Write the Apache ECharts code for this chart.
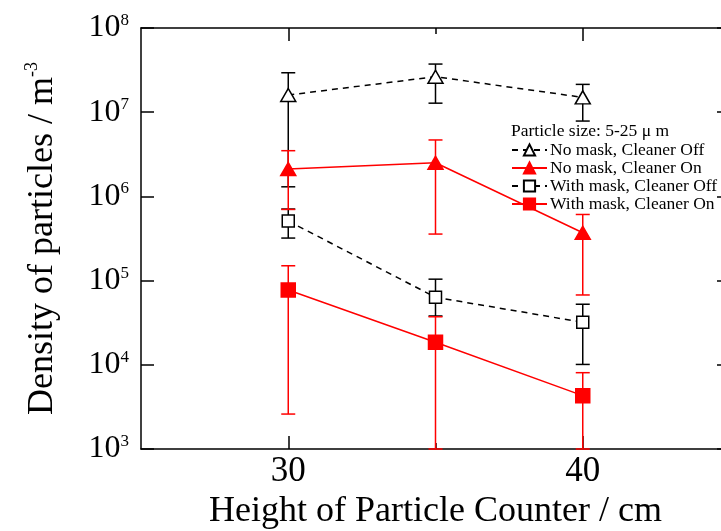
<!DOCTYPE html>
<html>
<head>
<meta charset="utf-8">
<script src="https://cdn.jsdelivr.net/npm/echarts@6/dist/echarts.min.js"></script>
<style>html,body{margin:0;padding:0;background:#fff;}#c{width:721px;height:531px;}</style>
</head>
<body>
<div id="c"></div>
<script>
// ---- data ----
var heights = [30, 35, 40];
var xTickLabels = [30, 40];
var xMinorTicks = [35];
var seriesNames = ['No mask, Cleaner Off', 'No mask, Cleaner On', 'With mask, Cleaner Off', 'With mask, Cleaner On'];
var noMaskOff    = [1.6e7, 2.64e7, 1.5e7];
var noMaskOffHi  = [2.94e7, 3.73e7, 2.14e7];
var noMaskOffLo  = [1.3e6, 1.28e7, 7.85e6];
var noMaskOn     = [2.11e6, 2.51e6, 3.7e5];
var noMaskOnHi   = [3.49e6, 4.68e6, 6.1e5];
var noMaskOnLo   = [7.0e5, 3.57e5, 6.75e4];
var maskOff      = [5.1e5, 6.34e4, 3.2e4];
var maskOffHi    = [7.08e5, 1.04e5, 5.24e4];
var maskOffLo    = [3.2e5, 3.8e4, 1.01e4];
var maskOn       = [7.73e4, 1.85e4, 4.3e3];
var maskOnHi     = [1.5e5, 3.72e4, 8.06e3];
var maskOnLo     = [2.6e3, 1.0e3, 1.0e3];

var FONT = '"Liberation Serif", "Times New Roman", serif';
var RED = '#ff0000', BLACK = '#000000';

function pts(vals) { return heights.map(function (h, i) { return [h, vals[i]]; }); }
function errData(lo, hi) { return heights.map(function (h, i) { return [h, lo[i], hi[i]]; }); }

function errSeries(name, lo, hi, color) {
  return {
    type: 'custom', name: name, xAxisIndex: 0, yAxisIndex: 0, z: 1,
    data: errData(lo, hi),
    renderItem: function (params, api) {
      var x = api.value(0);
      var p1 = api.coord([x, api.value(1)]);
      var p2 = api.coord([x, api.value(2)]);
      var w = 7;
      var st = { stroke: color, lineWidth: 1.5 };
      return {
        type: 'group',
        children: [
          { type: 'line', shape: { x1: p1[0], y1: p1[1], x2: p2[0], y2: p2[1] }, style: st },
          { type: 'line', shape: { x1: p1[0] - w, y1: p1[1], x2: p1[0] + w, y2: p1[1] }, style: st },
          { type: 'line', shape: { x1: p2[0] - w, y1: p2[1], x2: p2[0] + w, y2: p2[1] }, style: st }
        ]
      };
    }
  };
}

function lineSeries(name, vals, color, dashed, symbol, size, filled) {
  return {
    type: 'line', name: name, xAxisIndex: 0, yAxisIndex: 0, z: 3,
    data: pts(vals), symbol: symbol, symbolSize: size, showAllSymbol: true,
    lineStyle: { color: color, width: 1.5, type: dashed ? [6, 5] : 'solid' },
    itemStyle: { color: filled ? color : '#ffffff', borderColor: color, borderWidth: 1.5, opacity: 1 },
    emphasis: { disabled: true }
  };
}

var xBase = { type: 'value', min: 25, max: 45, gridIndex: 0, splitLine: { show: false } };

var option = {
  animation: false,
  backgroundColor: '#ffffff',
  grid: { left: 141, top: 28, width: 589, height: 421, containLabel: false, outerBoundsMode: 'none' },
  title: {
    text: 'Particle size: 5-25 \u03bc m', left: 511, top: 122, padding: 0,
    textStyle: { fontFamily: FONT, fontSize: 17.5, fontWeight: 'normal', color: BLACK }
  },
  legend: {
    data: seriesNames, orient: 'vertical', left: 511, top: 141,
    itemWidth: 35, itemHeight: 14, itemGap: 0, padding: 0,
    textStyle: { fontFamily: FONT, fontSize: 17.5, color: BLACK, lineHeight: 17, padding: [0, 0, 0, -2] },
    selectedMode: false
  },
  xAxis: [
    Object.assign({}, xBase, {
      position: 'bottom',
      name: 'Height of Particle Counter / cm', nameLocation: 'middle', nameGap: 45,
      nameTextStyle: { fontFamily: FONT, fontSize: 36, color: BLACK },
      axisLine: { show: true, onZero: false, lineStyle: { color: BLACK, width: 1.5 } },
      axisTick: { show: true, inside: true, length: 13, customValues: xTickLabels, lineStyle: { color: BLACK, width: 1.5 } },
      axisLabel: { show: true, customValues: xTickLabels, margin: 5, fontFamily: FONT, fontSize: 35, color: BLACK }
    }),
    Object.assign({}, xBase, {
      position: 'top',
      axisLine: { show: true, onZero: false, lineStyle: { color: BLACK, width: 1.5 } },
      axisTick: { show: true, inside: true, length: 13, customValues: xTickLabels, lineStyle: { color: BLACK, width: 1.5 } },
      axisLabel: { show: false }
    }),
    Object.assign({}, xBase, {
      position: 'top',
      axisLine: { show: true, onZero: false, lineStyle: { color: BLACK, width: 1.5, opacity: 0 } },
      axisTick: { show: true, inside: true, length: 6, customValues: xMinorTicks, lineStyle: { color: BLACK, width: 1.5 } },
      axisLabel: { show: false, customValues: xMinorTicks }
    }),
    Object.assign({}, xBase, {
      position: 'bottom',
      axisLine: { show: true, onZero: false, lineStyle: { color: BLACK, width: 1.5, opacity: 0 } },
      axisTick: { show: true, inside: true, length: 6, customValues: xMinorTicks, lineStyle: { color: BLACK, width: 1.5 } },
      axisLabel: { show: false, customValues: xMinorTicks }
    })
  ],
  yAxis: [
    {
      type: 'log', logBase: 10, min: 1e3, max: 1e8, position: 'left',
      name: '{a|Density of particles / m}{s|-3}', nameLocation: 'middle', nameGap: 78, nameRotate: 90,
      nameTextStyle: {
        fontFamily: FONT, fontSize: 36, color: BLACK,
        rich: {
          a: { fontFamily: FONT, fontSize: 36, color: BLACK, lineHeight: 40 },
          s: { fontFamily: FONT, fontSize: 18, color: BLACK, verticalAlign: 'top', lineHeight: 18 }
        }
      },
      splitLine: { show: false },
      axisLine: { show: true, lineStyle: { color: BLACK, width: 1.5 } },
      axisTick: { show: true, inside: true, length: 13, lineStyle: { color: BLACK, width: 1.5 } },
      minorTick: { show: false },
      axisLabel: {
        margin: 12,
        formatter: function (v) { return '{b|10}{s|' + Math.round(Math.log10(v)) + '}'; },
        rich: {
          b: { fontFamily: FONT, fontSize: 32, color: BLACK, lineHeight: 32 },
          s: { fontFamily: FONT, fontSize: 17, color: BLACK, verticalAlign: 'top', lineHeight: 17 }
        }
      }
    },
    {
      type: 'log', logBase: 10, min: 1e3, max: 1e8, position: 'right',
      splitLine: { show: false },
      axisLine: { show: false },
      axisTick: { show: true, inside: true, length: 13, lineStyle: { color: BLACK, width: 1.5 } },
      axisLabel: { show: false }
    }
  ],
  series: [
    errSeries('e1', noMaskOffLo, noMaskOffHi, BLACK),
    errSeries('e3', maskOffLo, maskOffHi, BLACK),
    errSeries('e2', noMaskOnLo, noMaskOnHi, RED),
    errSeries('e4', maskOnLo, maskOnHi, RED),
    lineSeries(seriesNames[0], noMaskOff, BLACK, true, 'triangle', [15, 13], false),
    lineSeries(seriesNames[1], noMaskOn, RED, false, 'triangle', [15, 13], true),
    lineSeries(seriesNames[2], maskOff, BLACK, true, 'rect', [12, 12], false),
    lineSeries(seriesNames[3], maskOn, RED, false, 'rect', [14, 14], true)
  ]
};

var chart = echarts.init(document.getElementById('c'), null, { renderer: 'canvas' });
chart.setOption(option);
</script>
</body>
</html>
